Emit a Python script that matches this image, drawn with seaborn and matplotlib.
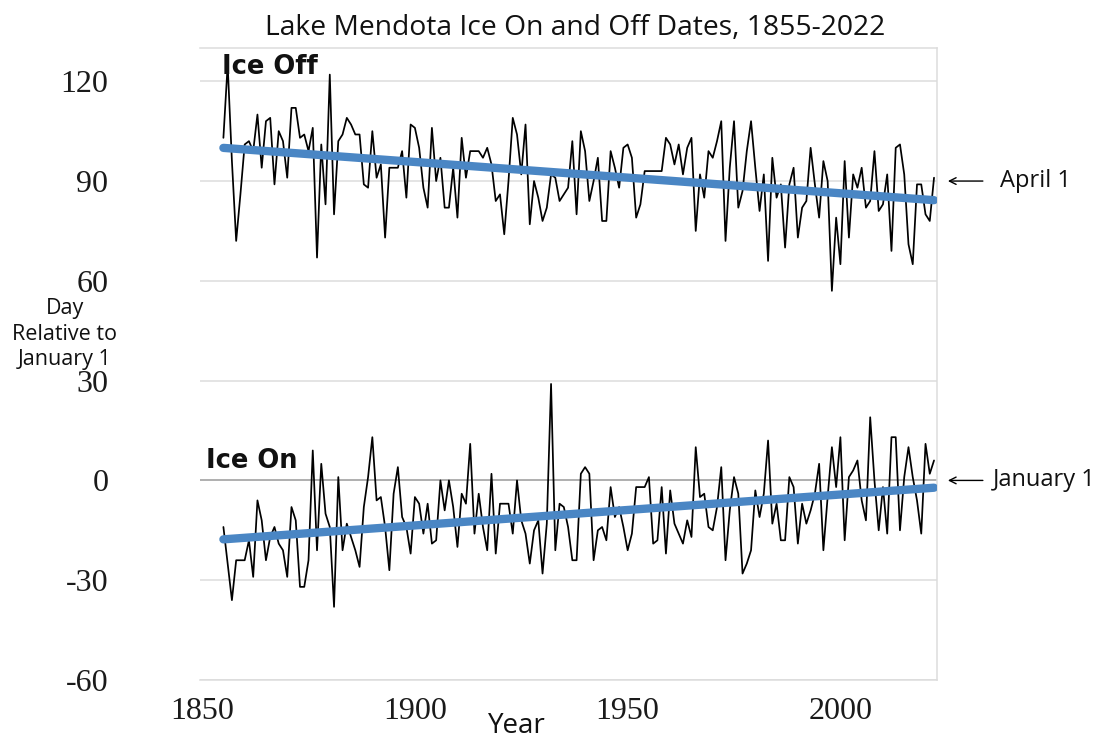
import matplotlib
matplotlib.use('Agg')
import matplotlib.pyplot as plt
import seaborn as sns

###############################################################################
# Data (day relative to January 1)
###############################################################################
years = list(range(1855, 2023))

ice_off = [103, 125, 96, 72, 86, 101, 102, 99, 110, 94, 108, 109, 89, 105,
           102, 91, 112, 112, 103, 104, 99, 106, 67, 101, 83, 122, 80,
           102, 104, 109, 107, 104, 104, 89, 88, 105, 91, 95, 73, 94, 94,
           94, 99, 85, 107, 106, 100, 88, 82, 106, 90, 97, 82, 82, 94, 79,
           103, 91, 99, 99, 99, 97, 100, 95, 84, 86, 74, 90, 109, 104, 92,
           107, 77, 90, 85, 78, 82, 92, 91, 84, 86, 88, 102, 80,
           105, 99, 84, 90, 97, 78, 78, 99, 94, 88, 100, 101, 97, 79, 83,
           93, 93, 93, 93, 93, 103, 101, 95, 101, 92, 100, 103, 75, 92,
           85, 99, 97, 102, 108, 72, 94, 108, 82, 87, 99, 108, 94, 81, 92,
           66, 97, 85, 89, 70, 89, 94, 73, 82, 84, 100, 89, 79,
           96, 90, 57, 79, 65, 96, 73, 92, 88, 94, 82, 84, 99, 81, 83, 92,
           69, 100, 101, 92, 71, 65, 89, 89, 80, 78, 91]

ice_on = [-14, -25, -36, -24, -24, -24, -18, -29, -6, -12, -24, -17, -14,
          -19, -21, -29, -8, -12, -32, -32, -24, 9, -21, 5, -10, -14, -38, 1,
          -21, -13, -17, -21, -26, -8, 1, 13, -6, -5, -14, -27, -4, 4, -11,
          -14, -22, -5, -7, -16, -7, -19, -18, 0, -9, 0, -8, -20,
          -4, -7, 11, -16, -4, -14, -21, 2, -22, -7, -7, -7, -16, 0, -12,
          -16, -25, -15, -12, -28, -13, 29, -21, -7, -8, -14, -24, -24,
          2, 4, 2, -24, -15, -14, -18, -2, -11, -8, -14, -21, -16, -2, -2,
          -2, 1, -19, -18, -2, -22, -3, -13, -16, -19, -12, -17, 10, -5,
          -4, -14, -15, -8, 4, -24, -9, 1, -4, -28, -25, -21, -3, -11, -4,
          12, -13, -7, -18, -18, 1, -2, -19, -7, -13, -9, -4, 5,
          -21, -5, 10, -2, 13, -18, 1, 3, 6, -6, -12, 19, 0, -15, -2, -16,
          13, 13, -15, 1, 10, 1, -6, -16, 11, 2, 6]

y_ticks = [-60, -30, 0, 30, 60, 90, 120]
x_ticks = [1850, 1900, 1950, 2000]

trend_blue = '#4a86c4'
W, H = 1099, 738

###############################################################################
# Figure
###############################################################################
sns.set_theme(style='white')
plt.rcParams['font.family'] = ['Open Sans', 'DejaVu Sans']
plt.rcParams['axes.unicode_minus'] = False

fig = plt.figure(figsize=(W / 100, H / 100), dpi=100)
ax = fig.add_axes([200 / W, 1 - 680 / H, 737 / W, 632 / H])

# horizontal grid, zero line a bit darker
for yv in y_ticks:
    ax.axhline(yv, color='#9a9a9a' if yv == 0 else '#dcdcdc', lw=1.1, zorder=0)

sns.lineplot(x=years, y=ice_off, color='black', lw=1.25, ax=ax, zorder=2)
sns.lineplot(x=years, y=ice_on, color='black', lw=1.25, ax=ax, zorder=2)

for series in (ice_off, ice_on):
    sns.regplot(x=years, y=series, scatter=False, ci=None, color=trend_blue,
                line_kws=dict(lw=6, solid_capstyle='round', zorder=3), ax=ax)

ax.set_xlim(1849.5, 2022.7)
ax.set_ylim(-60, 130)
ax.set_xticks(x_ticks)
ax.set_yticks(y_ticks)
ax.set_xlabel('')
ax.set_ylabel('')
ax.tick_params(axis='both', length=0, labelsize=23)
ax.tick_params(axis='y', pad=66)
ax.tick_params(axis='x', pad=12)
for lab in ax.get_xticklabels() + ax.get_yticklabels():
    lab.set_fontfamily('Liberation Serif')
    lab.set_color('#1a1a1a')

for side in ['top', 'right', 'bottom']:
    ax.spines[side].set_color('#dcdcdc')
    ax.spines[side].set_linewidth(1.1)
ax.spines['left'].set_visible(False)

# series labels
ax.text(1854.7, 124.3, 'Ice Off', fontsize=18.5, fontweight='bold',
        family='DejaVu Sans', ha='left', va='center', color='#111111')
ax.text(1850.8, 5.7, 'Ice On', fontsize=18.5, fontweight='bold',
        family='DejaVu Sans', ha='left', va='center', color='#111111')

# reference arrows on the right
for yv, txt, tx in [(90, 'April 1', 1.0855), (0, 'January 1', 1.076)]:
    ax.annotate('', xy=(1.011, yv), xytext=(1.066, yv),
                xycoords=('axes fraction', 'data'),
                textcoords=('axes fraction', 'data'),
                arrowprops=dict(arrowstyle='->', lw=1, color='black',
                                mutation_scale=12),
                annotation_clip=False)
    ax.text(tx, yv, txt, transform=ax.get_yaxis_transform(), fontsize=17,
            ha='left', va='center', color='#111111')

fig.text(575 / W, 1 - 28 / H, 'Lake Mendota Ice On and Off Dates, 1855-2022',
         fontsize=20.3, ha='center', va='center', color='#111111')
fig.text(65 / W, 1 - 334 / H, 'Day\nRelative to\nJanuary 1', fontsize=15.5,
         ha='center', va='center', linespacing=1.3, color='#111111')
fig.text(517 / W, 1 - 726 / H, 'Year', fontsize=20, ha='center',
         va='center', color='#111111')

fig.savefig('out.png', dpi=100)
